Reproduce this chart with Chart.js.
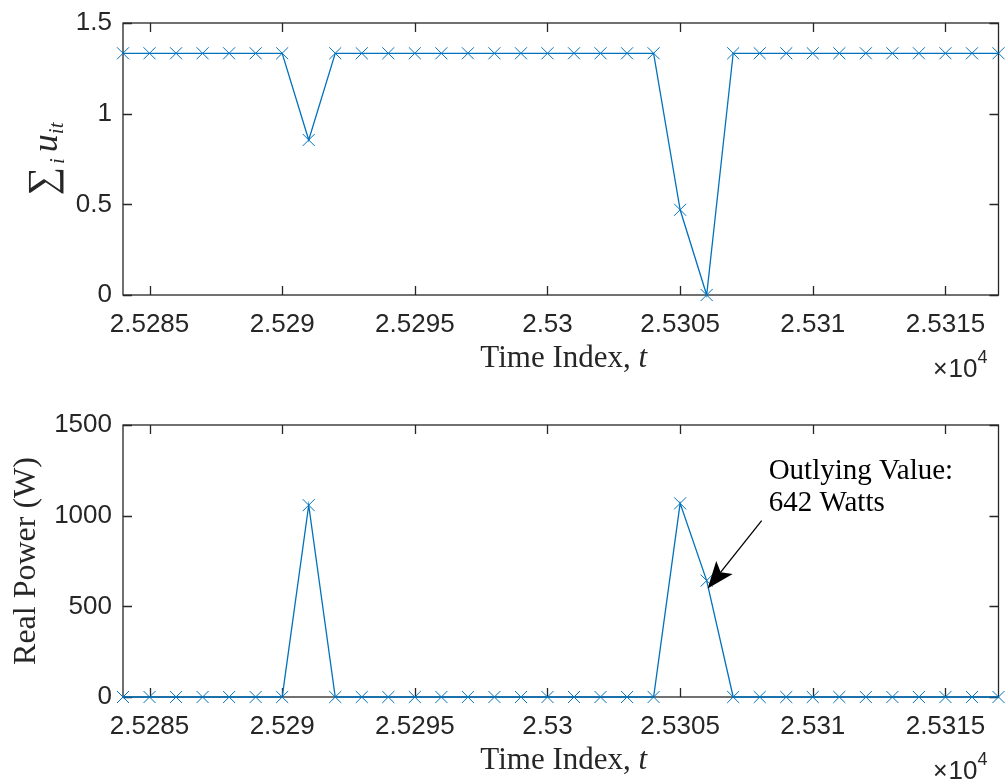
<!DOCTYPE html>
<html lang="en">
<head>
<meta charset="utf-8">
<title>Sum of states and real power</title>
<script src="https://cdn.jsdelivr.net/npm/chart.js@4/dist/chart.umd.min.js"></script>
<style>
  body { margin:0; background:#fff; }
  #wrap { position:relative; width:1008px; height:784px; overflow:hidden; }
  canvas { position:absolute; left:0; }
  #topcv { top:0; }
  #botcv { top:402px; }
</style>
</head>
<body>
<div id="wrap">
  <canvas id="topcv" width="1008" height="382"></canvas>
  <canvas id="botcv" width="1008" height="382"></canvas>
</div>
<script>
// time index t
const timeIdx = [25284,25285,25286,25287,25288,25289,25290,25291,25292,25293,25294,25295,
                 25296,25297,25298,25299,25300,25301,25302,25303,25304,25305,25306,25307,
                 25308,25309,25310,25311,25312,25313,25314,25315,25316,25317];
// sum_i u_it (top)
const sumU = [1.333,1.333,1.333,1.333,1.333,1.333,1.333,0.855,1.333,1.333,1.333,1.333,
              1.333,1.333,1.333,1.333,1.333,1.333,1.333,1.333,1.333,0.47,0,1.333,
              1.333,1.333,1.333,1.333,1.333,1.333,1.333,1.333,1.333,1.333];
// real power in W (bottom)
const realPower = [0,0,0,0,0,0,0,1058,0,0,0,0,
                   0,0,0,0,0,0,0,0,0,1068,642,0,
                   0,0,0,0,0,0,0,0,0,0];
const xTicks = [25285,25290,25295,25300,25305,25310,25315];
const topYTicks = [0,0.5,1,1.5];
const botYTicks = [0,500,1000,1500];
// annotation
const outlierT = 25306;
const outlierW = 642;
const annotLines = ['Outlying Value:', '642 Watts'];

const AXCOL = '#262626';
const LINECOL = '#0072BD';
const SERIF = '"Liberation Serif", "DejaVu Serif", serif';
const SANS = '"Liberation Sans", Arial, sans-serif';
const TL = 9; // inner tick length

// box + inward ticks like matlab
const boxPlugin = {
  id: 'matlabBox',
  beforeDatasetsDraw(chart) {
    const {ctx, chartArea: a, scales} = chart;
    ctx.save();
    ctx.strokeStyle = AXCOL;
    ctx.lineWidth = 1.3;
    ctx.strokeRect(a.left, a.top, a.right - a.left, a.bottom - a.top);
    ctx.beginPath();
    scales.x.ticks.forEach(t => {
      const px = Math.round(scales.x.getPixelForValue(t.value)) + 0.5;
      ctx.moveTo(px, a.bottom); ctx.lineTo(px, a.bottom - TL);
      ctx.moveTo(px, a.top); ctx.lineTo(px, a.top + TL);
    });
    scales.y.ticks.forEach(t => {
      const py = Math.round(scales.y.getPixelForValue(t.value)) + 0.5;
      ctx.moveTo(a.left, py); ctx.lineTo(a.left + TL, py);
      ctx.moveTo(a.right, py); ctx.lineTo(a.right - TL, py);
    });
    ctx.stroke();
    ctx.restore();
  }
};

// "Time Index, t" and x10^4
function drawXTitle(chart) {
  const {ctx, chartArea: a} = chart;
  ctx.save();
  ctx.fillStyle = AXCOL;
  ctx.textBaseline = 'alphabetic';
  ctx.textAlign = 'left';
  const f1 = '31px ' + SERIF, f2 = 'italic 31px ' + SERIF;
  ctx.font = f1;
  const w1 = ctx.measureText('Time Index, ').width;
  ctx.font = f2;
  const w2 = ctx.measureText('t').width;
  const x0 = (a.left + a.right) / 2 - (w1 + w2) / 2 + 3;
  const by = a.bottom + 72;
  ctx.font = f1; ctx.fillText('Time Index, ', x0, by);
  ctx.font = f2; ctx.fillText('t', x0 + w1, by);

  // x10^4
  const ey = a.bottom + 82;
  ctx.font = '18px ' + SANS;
  const w4 = ctx.measureText('4').width;
  ctx.font = '26px ' + SANS;
  const w10 = ctx.measureText('10').width;
  ctx.font = '25px ' + SANS;
  const wx = ctx.measureText('\u00d7').width;
  let xr = a.right - 11;
  ctx.font = '18px ' + SANS; ctx.fillText('4', xr - w4, ey - 14);
  xr -= w4;
  ctx.font = '26px ' + SANS; ctx.fillText('10', xr - w10, ey);
  xr -= w10 + 1;
  ctx.font = '25px ' + SANS; ctx.fillText('\u00d7', xr - wx, ey);
  ctx.restore();
}

const topTitles = {
  id: 'topTitles',
  afterDraw(chart) {
    drawXTitle(chart);
    const {ctx, chartArea: a} = chart;
    // sum_i u_it, rotated
    ctx.save();
    ctx.fillStyle = AXCOL;
    ctx.translate(57, (a.top + a.bottom) / 2);
    ctx.rotate(-Math.PI / 2);
    ctx.textBaseline = 'alphabetic';
    ctx.textAlign = 'left';
    const fs = '40px ' + SERIF, fsub = 'italic 21px ' + SERIF, fu = 'italic 36px ' + SERIF;
    ctx.font = fs;
    const ms = ctx.measureText('\u2211');
    ctx.font = fsub;
    const wi = ctx.measureText('i').width;
    const wit = ctx.measureText('it').width;
    ctx.font = fu;
    const wu = ctx.measureText('u').width;
    const gap = 3;
    const total = ms.width + gap + wi + 6 + wu + wit;
    let x = -total / 2;
    ctx.font = fs;
    ctx.fillText('\u2211', x, 7 - ms.actualBoundingBoxDescent);
    x += ms.width + gap;
    ctx.font = fsub; ctx.fillText('i', x, 7);
    x += wi + 6;
    ctx.font = fu; ctx.fillText('u', x, 0);
    x += wu;
    ctx.font = fsub; ctx.fillText('it', x, 6);
    ctx.restore();
  }
};

const botTitles = {
  id: 'botTitles',
  afterDraw(chart) {
    drawXTitle(chart);
    const {ctx, chartArea: a, scales} = chart;
    ctx.save();
    ctx.fillStyle = AXCOL;
    ctx.translate(35, (a.top + a.bottom) / 2);
    ctx.rotate(-Math.PI / 2);
    ctx.textAlign = 'center';
    ctx.textBaseline = 'alphabetic';
    ctx.font = '32px ' + SERIF;
    ctx.fillText('Real Power (W)', 0, 0);
    ctx.restore();

    // annotation arrow + text
    const px = scales.x.getPixelForValue(outlierT);
    const py = scales.y.getPixelForValue(outlierW);
    const tip = {x: px + 1, y: py + 8};
    const tail = {x: tip.x + 54, y: tip.y - 68};
    const len = Math.hypot(tail.x - tip.x, tail.y - tip.y);
    const d = {x: (tail.x - tip.x) / len, y: (tail.y - tip.y) / len};
    const n = {x: -d.y, y: d.x};
    const hl = 27, hw = 10.5, notch = 21;
    ctx.save();
    ctx.strokeStyle = '#000';
    ctx.fillStyle = '#000';
    ctx.lineWidth = 1.3;
    ctx.beginPath();
    ctx.moveTo(tail.x, tail.y);
    ctx.lineTo(tip.x + d.x * notch, tip.y + d.y * notch);
    ctx.stroke();
    ctx.beginPath();
    ctx.moveTo(tip.x, tip.y);
    ctx.lineTo(tip.x + d.x * hl + n.x * hw, tip.y + d.y * hl + n.y * hw);
    ctx.lineTo(tip.x + d.x * notch, tip.y + d.y * notch);
    ctx.lineTo(tip.x + d.x * hl - n.x * hw, tip.y + d.y * hl - n.y * hw);
    ctx.closePath();
    ctx.fill();
    ctx.font = '29px ' + SERIF;
    ctx.textAlign = 'left';
    ctx.textBaseline = 'alphabetic';
    ctx.fillStyle = '#000';
    ctx.fillText(annotLines[0], tail.x + 7, tail.y - 42);
    ctx.fillText(annotLines[1], tail.x + 7, tail.y - 10);
    ctx.restore();
  }
};

function makeChart(id, values, yMax, yTicks, titlesPlugin) {
  return new Chart(document.getElementById(id), {
    type: 'line',
    data: {
      datasets: [{
        data: timeIdx.map((t, i) => ({x: t, y: values[i]})),
        borderColor: LINECOL,
        borderWidth: 1.3,
        tension: 0,
        fill: false,
        pointStyle: 'crossRot',
        pointRadius: 8.5,
        pointBorderWidth: 1,
        pointBorderColor: LINECOL,
        pointBackgroundColor: LINECOL,
        clip: false
      }]
    },
    options: {
      responsive: false,
      animation: false,
      events: [],
      layout: { padding: { top: 23, right: 5, left: 0, bottom: 0 } },
      plugins: { legend: { display: false }, tooltip: { enabled: false } },
      scales: {
        x: {
          type: 'linear',
          min: timeIdx[0],
          max: timeIdx[timeIdx.length - 1],
          grid: { display: false, drawTicks: false },
          border: { display: false },
          afterBuildTicks: s => { s.ticks = xTicks.map(v => ({value: v})); },
          afterFit: s => { s.height = 87; s.paddingLeft = 0; s.paddingRight = 0; },
          ticks: {
            autoSkip: false, maxRotation: 0, padding: 14,
            color: AXCOL, font: { family: SANS, size: 26 },
            callback: v => String(+(v / 1e4).toFixed(4))
          }
        },
        y: {
          min: 0,
          max: yMax,
          grid: { display: false, drawTicks: false },
          border: { display: false },
          afterBuildTicks: s => { s.ticks = yTicks.map(v => ({value: v})); },
          afterFit: s => { s.width = 123; s.paddingTop = 0; s.paddingBottom = 0; },
          ticks: {
            padding: 11,
            color: AXCOL, font: { family: SANS, size: 26 },
            callback: v => String(v)
          }
        }
      }
    },
    plugins: [boxPlugin, titlesPlugin]
  });
}

makeChart('topcv', sumU, 1.5, topYTicks, topTitles);
makeChart('botcv', realPower, 1500, botYTicks, botTitles);
</script>
</body>
</html>
